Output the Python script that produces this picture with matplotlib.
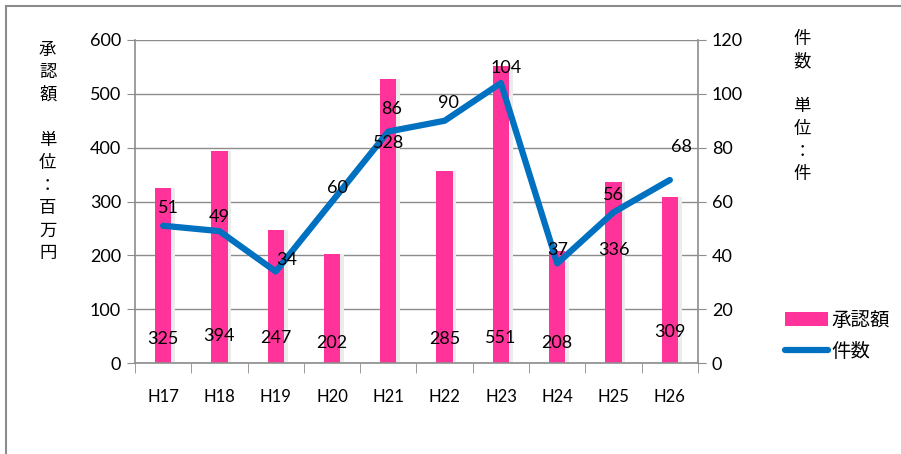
import matplotlib
matplotlib.use("Agg")
from matplotlib import pyplot as plt
from matplotlib.lines import Line2D
import numpy as np

plt.rcParams['font.family'] = ['Lato', 'Noto Sans CJK JP', 'DejaVu Sans']

years = ["H17", "H18", "H19", "H20", "H21", "H22", "H23", "H24", "H25", "H26"]
amount = [325, 394, 247, 202, 528, 357, 551, 208, 336, 309]          # 承認額 (bar heights)
amount_labels = ["325", "394", "247", "202", "528", "285", "551", "208", "336", "309"]
count = [51, 49, 34, 60, 86, 90, 104, 37, 56, 68]                     # 件数

# where the data labels sit (left-axis units for bars, right-axis units for line)
amount_label_y = [45, 50, 46, 37, 409, 45, 46, 37, 210, 58]
count_label_y = [57.6, 54.2, 38.3, 65, 94.4, 96.6, 109.6, 42, 62.4, 80.2]
count_label_dx = [0.09, 0, 0.2, 0.09, 0.05, 0.07, 0.1, 0, 0, 0.21]

pink = "#FF3399"
blue = "#0070C0"
grey = "#8C8C8C"
cjk = ["Noto Sans CJK JP", "DejaVu Sans"]

fig = plt.figure(figsize=(9.01, 4.54), dpi=100)
ax = fig.add_axes([0.1498, 0.2004, 0.6249, 0.7115])
x = np.arange(len(years))

ax.bar(x + 0.06, amount, width=0.3, color="#ECECEC", zorder=1)
bars = ax.bar(x, amount, width=0.29, color=pink, zorder=2, label="承認額")
ax.set_ylim(0, 600)
ax.set_xlim(-0.5, len(years) - 0.5)
ax.set_yticks(range(0, 601, 100))
ax.yaxis.grid(True, color=grey, lw=1)
ax.set_axisbelow(True)
ax.set_xticks(x)
ax.set_xticklabels(years, fontsize=12)
ax.set_xticks(np.arange(-0.5, len(years)), minor=True)
ax.tick_params(axis="x", which="major", length=0, pad=19)
ax.tick_params(axis="x", which="minor", length=7, color=grey, direction="out")
ax.tick_params(axis="y", length=6, color=grey, labelsize=13, pad=4)
for s in ["top", "right"]:
    ax.spines[s].set_visible(False)
for s in ["left", "bottom"]:
    ax.spines[s].set_color(grey)
    ax.spines[s].set_linewidth(1.2)

ax2 = ax.twinx()
ax2.set_ylim(0, 120)
ax2.set_yticks(range(0, 121, 20))
ax2.plot(x, count, color=blue, lw=4.5, solid_capstyle="round",
         solid_joinstyle="round", zorder=3, label="件数")
ax2.tick_params(axis="y", length=6, color=grey, labelsize=13, pad=4)
for s in ["top", "left", "bottom"]:
    ax2.spines[s].set_visible(False)
ax2.spines["right"].set_color(grey)
ax2.spines["right"].set_linewidth(1.2)

for i, lab in enumerate(amount_labels):
    ax2.text(x[i], amount_label_y[i] / 5, lab, ha="center", va="center",
             fontsize=13, zorder=5)
for i, v in enumerate(count):
    ax2.text(x[i] + count_label_dx[i], count_label_y[i], str(v), ha="center",
             va="center", fontsize=13, zorder=5)

fig.text(0.053, 0.91, "承\n認\n額\n\n単\n位\n：\n百\n万\n円", ha="center", va="top",
         fontsize=12.5, linespacing=1.33, family=cjk)
fig.text(0.89, 0.935, "件\n数\n\n単\n位\n：\n件", ha="center", va="top",
         fontsize=12.5, linespacing=1.33, family=cjk)

fig.legend(handles=[bars, ax2.lines[0]], labels=["承認額", "件数"],
           loc="center left", bbox_to_anchor=(0.852, 0.26), frameon=False,
           handlelength=2.2, handletextpad=0.2, labelspacing=0.5,
           prop={"family": cjk, "size": 14})

# outer chart frame (left and top edges visible)
fig.add_artist(Line2D([0.0067, 0.0067], [0, 0.987], color=grey, lw=1.5))
fig.add_artist(Line2D([0.0067, 1], [0.987, 0.987], color=grey, lw=1.5))

fig.savefig("out.png", dpi=100)
